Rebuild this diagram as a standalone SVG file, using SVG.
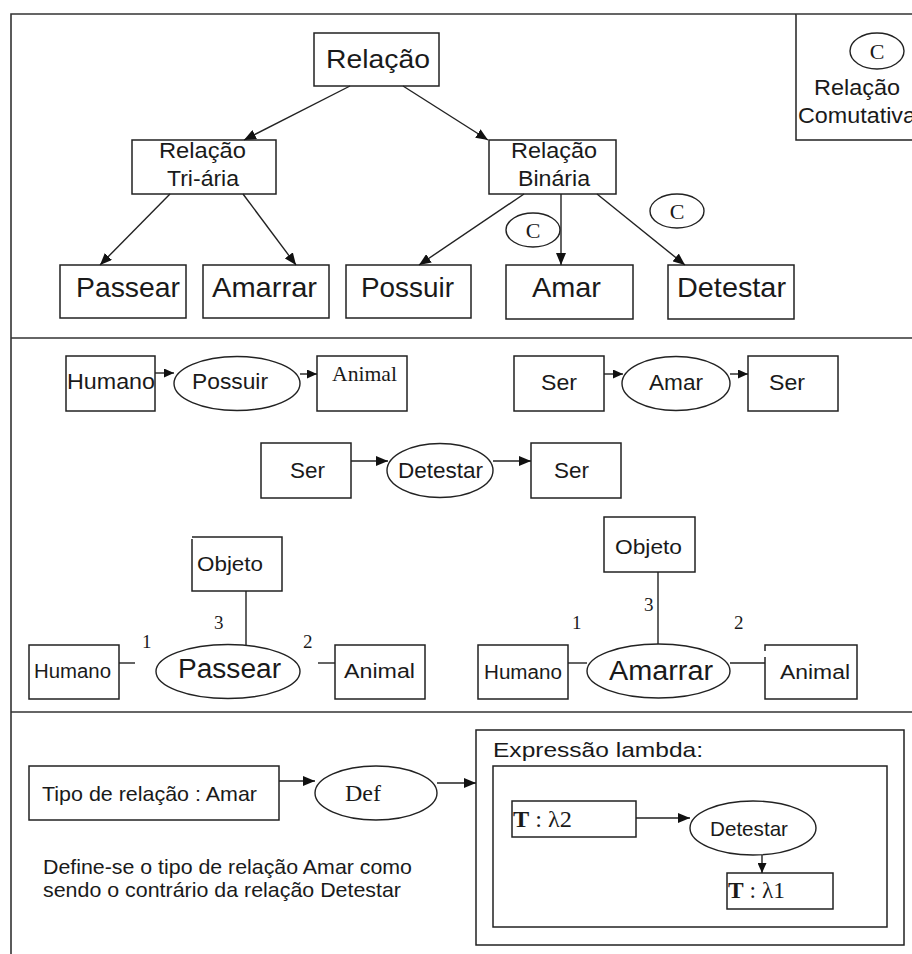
<svg xmlns="http://www.w3.org/2000/svg" width="912" height="954" viewBox="0 0 912 954">
  <style>
    .box { fill: #fff; stroke: #222; stroke-width: 1.5; }
    .ell { fill: #fff; stroke: #222; stroke-width: 1.4; }
    .frame { fill: none; stroke: #333; stroke-width: 1.6; }
    .edge { fill: none; stroke: #222; stroke-width: 1.4; }
    .arr { fill: none; stroke: #222; stroke-width: 1.4; marker-end: url(#head); }
    .arrs { fill: none; stroke: #222; stroke-width: 1.4; marker-end: url(#headS); }
    .sans { font-family: "Liberation Sans", Arial, sans-serif; fill: #1a1a1a; }
    .serif { font-family: "Liberation Serif", "Times New Roman", serif; fill: #1a1a1a; }
  </style>
  <defs>
    <marker id="head" markerUnits="userSpaceOnUse" markerWidth="12" markerHeight="10" refX="12" refY="5" orient="auto">
      <path d="M0,0 L12,5 L0,10 z" fill="#111"/>
    </marker>
    <marker id="headS" markerUnits="userSpaceOnUse" markerWidth="10" markerHeight="9" refX="10" refY="4.5" orient="auto">
      <path d="M0,0 L10,4.5 L0,9 z" fill="#111"/>
    </marker>
  </defs>

  <rect width="912" height="954" fill="#fff"/>

  <!-- page frame and section separators -->
  <g id="frame">
    <path class="frame" d="M11,954 V14 H912"/>
    <line class="frame" x1="11" y1="338" x2="912" y2="338"/>
    <line class="frame" x1="11" y1="712" x2="912" y2="712"/>
  </g>

  <!-- legend: commutative relation -->
  <g id="legend">
    <path class="box" d="M796,14 V140 H912"/>
    <ellipse class="ell" cx="877" cy="51" rx="27" ry="18"/>
    <text class="serif" x="877" y="59" font-size="22" text-anchor="middle">C</text>
    <text class="sans" x="814" y="95" font-size="22" textLength="86" lengthAdjust="spacingAndGlyphs">Relação</text>
    <text class="sans" x="798" y="123" font-size="22" textLength="118" lengthAdjust="spacingAndGlyphs">Comutativa</text>
  </g>

  <!-- hierarchy -->
  <g id="relacao">
    <rect class="box" x="314" y="33" width="125" height="53"/>
    <text class="sans" x="326" y="68" font-size="26" textLength="104" lengthAdjust="spacingAndGlyphs">Relação</text>
  </g>
  <g id="rel-triaria">
    <rect class="box" x="132" y="140" width="144" height="54"/>
    <text class="sans" x="159" y="158" font-size="22" textLength="87" lengthAdjust="spacingAndGlyphs">Relação</text>
    <text class="sans" x="167" y="186" font-size="22" textLength="72" lengthAdjust="spacingAndGlyphs">Tri-ária</text>
  </g>
  <g id="rel-binaria">
    <rect class="box" x="489" y="140" width="127" height="54"/>
    <text class="sans" x="511" y="158" font-size="22" textLength="86" lengthAdjust="spacingAndGlyphs">Relação</text>
    <text class="sans" x="518" y="186" font-size="22" textLength="72" lengthAdjust="spacingAndGlyphs">Binária</text>
  </g>
  <g id="passear">
    <rect class="box" x="60" y="265" width="126" height="53"/>
    <text class="sans" x="76" y="297" font-size="28" textLength="104" lengthAdjust="spacingAndGlyphs">Passear</text>
  </g>
  <g id="amarrar">
    <rect class="box" x="203" y="265" width="126" height="53"/>
    <text class="sans" x="212" y="297" font-size="28" textLength="105" lengthAdjust="spacingAndGlyphs">Amarrar</text>
  </g>
  <g id="possuir">
    <rect class="box" x="346" y="265" width="125" height="53"/>
    <text class="sans" x="361" y="297" font-size="28" textLength="93" lengthAdjust="spacingAndGlyphs">Possuir</text>
  </g>
  <g id="amar">
    <rect class="box" x="506" y="265" width="127" height="54"/>
    <text class="sans" x="532" y="297" font-size="28" textLength="69" lengthAdjust="spacingAndGlyphs">Amar</text>
  </g>
  <g id="detestar">
    <rect class="box" x="668" y="265" width="126" height="54"/>
    <text class="sans" x="677" y="297" font-size="28" textLength="109" lengthAdjust="spacingAndGlyphs">Detestar</text>
  </g>
  <g id="c-amar">
    <ellipse class="ell" cx="533" cy="230" rx="27" ry="17"/>
    <text class="serif" x="533" y="238" font-size="22" text-anchor="middle">C</text>
  </g>
  <g id="c-detestar">
    <ellipse class="ell" cx="677" cy="211" rx="27" ry="17"/>
    <text class="serif" x="677" y="219" font-size="22" text-anchor="middle">C</text>
  </g>

  <!-- signatures of the binary relations -->
  <g id="possuir-humano">
    <rect class="box" x="66" y="356" width="89" height="55"/>
    <text class="sans" x="67" y="389" font-size="22" textLength="88" lengthAdjust="spacingAndGlyphs">Humano</text>
  </g>
  <g id="possuir-rel">
    <ellipse class="ell" cx="237" cy="383.5" rx="63" ry="27"/>
    <text class="sans" x="192" y="389" font-size="22" textLength="76" lengthAdjust="spacingAndGlyphs">Possuir</text>
  </g>
  <g id="possuir-animal">
    <rect class="box" x="317" y="356" width="90" height="55"/>
    <text class="serif" x="332" y="381" font-size="22" textLength="65" lengthAdjust="spacingAndGlyphs">Animal</text>
  </g>

  <g id="amar-ser1">
    <rect class="box" x="514" y="356" width="90" height="55"/>
    <text class="sans" x="541" y="390" font-size="22" textLength="36" lengthAdjust="spacingAndGlyphs">Ser</text>
  </g>
  <g id="amar-rel">
    <ellipse class="ell" cx="676" cy="383.5" rx="54" ry="27"/>
    <text class="sans" x="649" y="390" font-size="22" textLength="54" lengthAdjust="spacingAndGlyphs">Amar</text>
  </g>
  <g id="amar-ser2">
    <rect class="box" x="748" y="356" width="90" height="55"/>
    <text class="sans" x="769" y="390" font-size="22" textLength="36" lengthAdjust="spacingAndGlyphs">Ser</text>
  </g>

  <g id="detestar-ser1">
    <rect class="box" x="261" y="443" width="90" height="55"/>
    <text class="sans" x="290" y="478" font-size="22" textLength="35" lengthAdjust="spacingAndGlyphs">Ser</text>
  </g>
  <g id="detestar-rel">
    <ellipse class="ell" cx="440" cy="470.5" rx="53" ry="27"/>
    <text class="sans" x="398" y="478" font-size="22" textLength="85" lengthAdjust="spacingAndGlyphs">Detestar</text>
  </g>
  <g id="detestar-ser2">
    <rect class="box" x="531" y="443" width="90" height="55"/>
    <text class="sans" x="554" y="478" font-size="22" textLength="35" lengthAdjust="spacingAndGlyphs">Ser</text>
  </g>

  <!-- ternary relation: Passear -->
  <g id="passear-objeto">
    <path class="box" d="M192,539 V591 H282 V537 H192"/>
    <text class="sans" x="197" y="571" font-size="21" textLength="66" lengthAdjust="spacingAndGlyphs">Objeto</text>
  </g>
  <g id="passear-rel">
    <ellipse class="ell" cx="228" cy="671.5" rx="72" ry="27"/>
    <text class="sans" x="178" y="678" font-size="27" textLength="103" lengthAdjust="spacingAndGlyphs">Passear</text>
  </g>
  <g id="passear-humano">
    <rect class="box" x="29" y="645" width="90" height="54"/>
    <text class="sans" x="34" y="678" font-size="20" textLength="77" lengthAdjust="spacingAndGlyphs">Humano</text>
  </g>
  <g id="passear-animal">
    <rect class="box" x="335" y="645" width="90" height="54"/>
    <text class="sans" x="344" y="678" font-size="20" textLength="71" lengthAdjust="spacingAndGlyphs">Animal</text>
  </g>
  <g id="passear-roles" class="serif" font-size="19">
    <text x="142" y="648">1</text>
    <text x="214" y="629">3</text>
    <text x="303" y="648">2</text>
  </g>

  <!-- ternary relation: Amarrar -->
  <g id="amarrar-objeto">
    <rect class="box" x="604" y="517" width="91" height="55"/>
    <text class="sans" x="615" y="554" font-size="21" textLength="67" lengthAdjust="spacingAndGlyphs">Objeto</text>
  </g>
  <g id="amarrar-rel">
    <ellipse class="ell" cx="658.5" cy="671" rx="71.5" ry="27"/>
    <text class="sans" x="609" y="680" font-size="27" textLength="104" lengthAdjust="spacingAndGlyphs">Amarrar</text>
  </g>
  <g id="amarrar-humano">
    <rect class="box" x="478" y="645" width="90" height="54"/>
    <text class="sans" x="484" y="679" font-size="20" textLength="78" lengthAdjust="spacingAndGlyphs">Humano</text>
  </g>
  <g id="amarrar-animal">
    <path class="box" d="M765,657 V699 H857 V645 H765 V651"/>
    <text class="sans" x="780" y="679" font-size="20" textLength="70" lengthAdjust="spacingAndGlyphs">Animal</text>
  </g>
  <g id="amarrar-roles" class="serif" font-size="19">
    <text x="572" y="629">1</text>
    <text x="644" y="611">3</text>
    <text x="734" y="629">2</text>
  </g>

  <!-- definition of Amar -->
  <g id="tipo">
    <rect class="box" x="29" y="766" width="250" height="54"/>
    <text class="sans" x="42" y="801" font-size="21" textLength="215" lengthAdjust="spacingAndGlyphs">Tipo de relação : Amar</text>
  </g>
  <g id="def">
    <ellipse class="ell" cx="376" cy="793" rx="61" ry="27"/>
    <text class="serif" x="345" y="801" font-size="24" textLength="36" lengthAdjust="spacingAndGlyphs">Def</text>
  </g>
  <g id="nota" class="sans" font-size="21">
    <text x="43" y="874" textLength="369" lengthAdjust="spacingAndGlyphs">Define-se o tipo de relação Amar como</text>
    <text x="43" y="897" textLength="358" lengthAdjust="spacingAndGlyphs">sendo o contrário da relação Detestar</text>
  </g>
  <g id="lambda">
    <rect class="box" x="476" y="730" width="428" height="215"/>
    <text class="sans" x="493" y="757" font-size="21" textLength="210" lengthAdjust="spacingAndGlyphs">Expressão lambda:</text>
    <rect class="box" x="493" y="766" width="394" height="161"/>
  </g>
  <g id="t-lambda2">
    <rect class="box" x="512" y="801" width="124" height="36"/>
    <text class="serif" x="513" y="827" font-size="24" textLength="59" lengthAdjust="spacingAndGlyphs"><tspan font-weight="bold">T</tspan> : λ2</text>
  </g>
  <g id="lambda-detestar">
    <ellipse class="ell" cx="753" cy="828" rx="63" ry="27"/>
    <text class="sans" x="710" y="836" font-size="21" textLength="78" lengthAdjust="spacingAndGlyphs">Detestar</text>
  </g>
  <g id="t-lambda1">
    <rect class="box" x="727" y="873" width="106" height="36"/>
    <text class="serif" x="728" y="898" font-size="24" textLength="57" lengthAdjust="spacingAndGlyphs"><tspan font-weight="bold">T</tspan> : λ1</text>
  </g>

  <!-- connectors -->
  <g id="connectors">
    <line class="arr" x1="350" y1="86" x2="244" y2="140"/>
    <line class="arr" x1="403" y1="86" x2="488" y2="140"/>
    <line class="arr" x1="170" y1="194" x2="100" y2="265"/>
    <line class="arr" x1="243" y1="194" x2="296" y2="265"/>
    <line class="arr" x1="524" y1="194" x2="419" y2="265"/>
    <line class="arr" x1="561" y1="194" x2="561" y2="265"/>
    <line class="arr" x1="597" y1="194" x2="685" y2="265"/>

    <line class="arrs" x1="155" y1="373" x2="174" y2="373"/>
    <line class="arrs" x1="300" y1="374" x2="317" y2="374"/>
    <line class="arrs" x1="604" y1="374" x2="623" y2="374"/>
    <line class="arrs" x1="730" y1="374" x2="748" y2="374"/>
    <line class="arr" x1="351" y1="461" x2="388" y2="461"/>
    <line class="arr" x1="493" y1="461" x2="531" y2="461"/>

    <line class="edge" x1="246" y1="591" x2="246" y2="645"/>
    <line class="edge" x1="119" y1="663" x2="135" y2="663"/>
    <line class="edge" x1="318" y1="663" x2="335" y2="663"/>
    <line class="edge" x1="658" y1="572" x2="658" y2="644"/>
    <line class="edge" x1="568" y1="663" x2="587" y2="663"/>
    <line class="edge" x1="730" y1="663" x2="765" y2="663"/>

    <line class="arr" x1="279" y1="781" x2="315" y2="781"/>
    <line class="arr" x1="437" y1="783" x2="476" y2="783"/>
    <line class="arr" x1="636" y1="818" x2="690" y2="818"/>
    <line class="arrs" x1="762" y1="855" x2="762" y2="873"/>
  </g>
</svg>
